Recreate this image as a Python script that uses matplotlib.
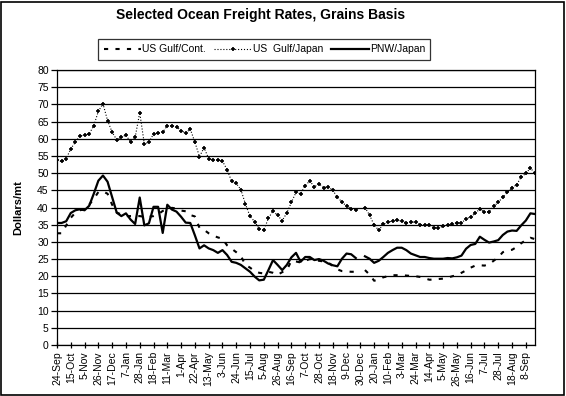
import numpy as np
import matplotlib
matplotlib.use("Agg")
import matplotlib.pyplot as plt
from matplotlib.patches import Rectangle

plt.rcParams['font.family'] = ['Liberation Sans', 'DejaVu Sans']

# ---------- weekly tick labels (every 3rd week) ----------
tick_labels = ["24-Sep", "15-Oct", "5-Nov", "26-Nov", "17-Dec", "7-Jan", "28-Jan",
               "18-Feb", "11-Mar", "1-Apr", "22-Apr", "13-May", "3-Jun", "24-Jun",
               "15-Jul", "5-Aug", "26-Aug", "16-Sep", "7-Oct", "28-Oct", "18-Nov",
               "9-Dec", "30-Dec", "20-Jan", "10-Feb", "3-Mar", "24-Mar", "14-Apr",
               "5-May", "26-May", "16-Jun", "7-Jul", "28-Jul", "18-Aug", "8-Sep"]

nan = np.nan

# ---------- series (dollars/mt, weekly) ----------
gulf_cont = [32.5, 32.5, 34.8, 37.0, 38.5, 39.2, 39.5, 40.8, 42.5, 44.5,
             44.7, 44.0, 40.8, 38.5, 38.0, 37.5, 37.5, 37.5, 37.5, 37.3,
             37.3, 37.5, 38.0, 39.0, 39.5, 39.9, 39.7, 39.1, 38.9, 37.8,
             37.4, 34.1, 33.5, 32.5, 31.8, 31.3, 30.9, 29.0, 28.0, 27.0,
             25.9, 23.3, 22.5, 21.5, 21.0, 20.8, 21.3, 21.0, 20.4, 21.2,
             21.8, 24.5, 24.3, 24.0, 24.5, 25.0, 24.7, 24.5, 24.3, 24.0,
             23.0, 22.0, 21.5, 21.4, 21.3, 21.3, nan, 21.8, 20.5, 18.7,
             19.0, 19.7, 20.0, 20.3, 20.3, 20.3, 20.2, 20.1, 20.0, 19.8,
             19.4, 19.0, 19.0, 19.2, 19.3, 19.6, 20.0, 20.3, 21.0, 21.7,
             22.5, 23.1, 23.2, 23.1, 23.5, 24.5, 25.5, 27.0, 27.5, 27.7,
             28.5, 29.6, 30.5, 31.2, 30.8]

gulf_japan = [53.7, 53.4, 54.2, 57.1, 59.0, 60.9, 61.0, 61.4, 63.8, 68.0,
              70.2, 65.3, 61.9, 59.7, 60.4, 61.1, 59.0, 60.4, 67.6, 58.5,
              59.0, 61.4, 61.6, 61.9, 63.8, 63.8, 63.5, 62.3, 61.7, 62.8,
              59.0, 54.8, 57.4, 54.2, 53.8, 53.8, 53.5, 51.0, 47.6, 47.0,
              45.2, 41.0, 37.4, 35.9, 33.8, 33.4, 36.9, 39.0, 37.7, 36.2,
              38.4, 41.5, 44.4, 44.0, 46.4, 47.7, 46.0, 46.9, 45.8, 46.0,
              45.0, 43.0, 41.6, 40.4, 39.7, 39.4, nan, 40.0, 37.8, 34.9,
              33.4, 35.1, 35.8, 36.0, 36.3, 36.0, 35.5, 35.8, 35.7, 35.0,
              35.0, 34.8, 34.1, 34.1, 34.5, 34.8, 35.3, 35.5, 35.5, 36.7,
              37.3, 38.3, 39.6, 38.6, 38.8, 40.3, 41.5, 43.0, 44.4, 45.8,
              46.6, 48.9, 49.9, 51.5, 49.9]

pnw_japan = [35.5, 35.5, 36.0, 38.4, 39.2, 39.5, 39.2, 40.5, 44.0, 47.8,
             49.3, 47.5, 43.0, 38.5, 37.5, 38.3, 36.5, 35.2, 42.9, 34.8,
             35.4, 40.2, 40.2, 32.6, 40.8, 39.4, 38.8, 37.3, 35.6, 35.5,
             31.9, 28.1, 29.0, 28.1, 27.6, 26.8, 27.6, 26.2, 24.2, 23.9,
             23.3, 22.3, 21.3, 19.9, 18.8, 19.0, 21.8, 24.7, 23.3, 21.8,
             23.3, 25.5, 26.8, 24.2, 25.6, 25.6, 24.7, 25.0, 24.5, 23.7,
             23.2, 22.9, 25.1, 26.6, 26.4, 25.3, nan, 25.8, 25.1, 23.9,
             24.5, 25.6, 26.8, 27.6, 28.3, 28.3, 27.6, 26.6, 26.1, 25.6,
             25.6, 25.3, 25.1, 25.1, 25.1, 25.3, 25.2, 25.5, 26.0, 28.0,
             29.1, 29.4, 31.5, 30.6, 29.8, 30.1, 30.5, 32.0, 33.0, 33.3,
             33.2, 34.8, 36.2, 38.3, 38.1]

weeks = np.arange(len(pnw_japan))

# ---------- figure ----------
fig = plt.figure(figsize=(5.66, 3.96), dpi=100)
ax = fig.add_axes([57 / 566, 1 - 345 / 396, 478 / 566, 275 / 396])

ax.plot(weeks, gulf_cont, color="black", lw=1.5, ls=(0, (2, 3.5)),
        label="US Gulf/Cont.")
ax.plot(weeks, gulf_japan, color="black", lw=0.8, ls=":", marker="+",
        ms=3.2, mew=1.2, label="US  Gulf/Japan")
ax.plot(weeks, pnw_japan, color="black", lw=1.6, label="PNW/Japan")

ax.set_xlim(0, len(weeks) - 1)
ax.set_ylim(0, 80)
ax.set_yticks(np.arange(0, 81, 5))
ax.yaxis.grid(True, color="black", lw=0.9)
ax.set_axisbelow(True)

ax.set_xticks(np.arange(0, len(tick_labels) * 3, 3))
ax.set_xticklabels(tick_labels, rotation=90, fontsize=7.5)
ax.tick_params(axis="x", direction="inout", length=5, width=0.9, pad=2)
ax.tick_params(axis="y", direction="out", length=4, width=0.9, labelsize=7.5, pad=2)
for s in ax.spines.values():
    s.set_color("black")
    s.set_linewidth(0.9)

ax.set_ylabel("Dollars/mt", fontsize=8, fontweight="bold")
ax.yaxis.set_label_coords(-0.07, 0.5)

fig.text(0.461, 0.963, "Selected Ocean Freight Rates, Grains Basis",
         ha="center", va="center", fontsize=10, fontweight="bold")

leg = fig.legend(loc="center", bbox_to_anchor=(0.467, 0.875), ncol=3,
                 fontsize=7.5, frameon=True, fancybox=False, handlelength=3.6,
                 handletextpad=0.1, columnspacing=0.8, borderpad=0.5)
leg.get_frame().set_edgecolor("black")
leg.get_frame().set_linewidth(0.9)

fig.patches.append(Rectangle((0.5 / 566, 1.5 / 396), 563 / 566, 393 / 396,
                             transform=fig.transFigure, fill=False,
                             edgecolor="black", lw=1.2))

fig.savefig("out.png", dpi=100)
